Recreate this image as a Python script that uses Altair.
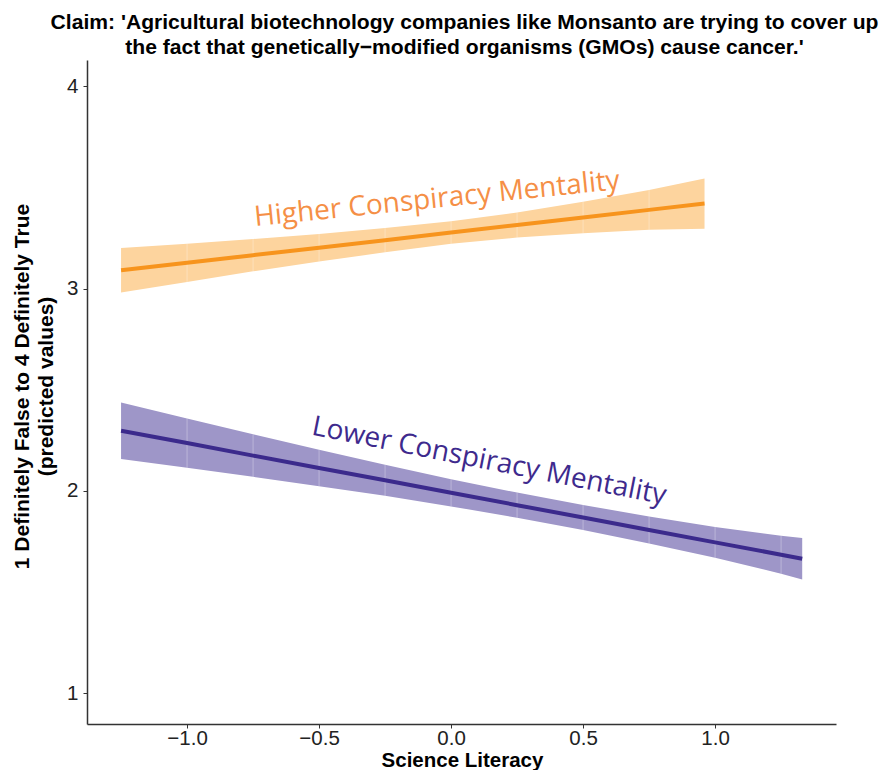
import altair as alt
import pandas as pd

# Higher conspiracy mentality (orange)
hi_x = [-1.25, -1.0, -0.75, -0.5, -0.25, 0.0, 0.25, 0.5, 0.75, 0.96]
hi_fit = [3.090, 3.127, 3.165, 3.202, 3.239, 3.277, 3.314, 3.351, 3.389, 3.420]
hi_lo = [2.980, 3.032, 3.085, 3.134, 3.179, 3.221, 3.252, 3.273, 3.291, 3.296]
hi_up = [3.200, 3.222, 3.245, 3.270, 3.299, 3.333, 3.376, 3.429, 3.487, 3.544]

# Lower conspiracy mentality (purple)
lo_x = [-1.25, -1.0, -0.75, -0.5, -0.25, 0.0, 0.25, 0.5, 0.75, 1.0, 1.25, 1.33]
lo_fit = [2.297, 2.236, 2.174, 2.113, 2.052, 1.990, 1.929, 1.868, 1.806, 1.745, 1.684, 1.664]
lo_lo = [2.157, 2.114, 2.069, 2.023, 1.975, 1.923, 1.867, 1.806, 1.739, 1.669, 1.590, 1.561]
lo_up = [2.437, 2.358, 2.279, 2.203, 2.129, 2.057, 1.991, 1.930, 1.873, 1.821, 1.778, 1.767]

labels = ["Higher Conspiracy Mentality", "Lower Conspiracy Mentality"]
label_x = [-0.053, 0.144]
label_y = [3.44, 2.144]
label_angle = [354.2, 11.2]

x_ticks = [-1.0, -0.5, 0.0, 0.5, 1.0]
y_ticks = [1, 2, 3, 4]

ORANGE_LINE = "#F7941D"
ORANGE_BAND = "#FDD49E"
ORANGE_TEXT = "#F58F46"
PURPLE_LINE = "#3B2A8C"
PURPLE_BAND = "#9E96C8"
PURPLE_TEXT = "#3E2A8D"

df_hi = pd.DataFrame({"x": hi_x, "fit": hi_fit, "lo": hi_lo, "up": hi_up})
df_lo = pd.DataFrame({"x": lo_x, "fit": lo_fit, "lo": lo_lo, "up": lo_up})

xscale = alt.Scale(domain=[-1.379, 1.458], nice=False, zero=False)
yscale = alt.Scale(domain=[0.847, 4.13], nice=False, zero=False)

xaxis = alt.Axis(values=x_ticks, format=".1f", title="Science Literacy", labelPadding=0,
                 titleX=375, titleY=42, titleBaseline="alphabetic", titleAnchor="middle",
                 titleFontSize=20.5)
yaxis = alt.Axis(values=y_ticks, format="d", labelPadding=5,
                 title=["1 Definitely False to 4 Definitely True", "(predicted values)"],
                 titleAngle=-90, titleX=-65, titleY=326, titleBaseline="middle",
                 titleAlign="center", titleLineHeight=24)

X = alt.X("x:Q", scale=xscale, axis=xaxis)
Y = alt.Y("fit:Q", scale=yscale, axis=yaxis)


def band(df, color):
    return alt.Chart(df).mark_area(color=color, opacity=1).encode(
        x=alt.X("x:Q", scale=xscale), y=alt.Y("lo:Q", scale=yscale), y2="up:Q")


def seams(df):
    inner = df.iloc[1:-1]
    return alt.Chart(inner).mark_rule(color="#FFFFFF", opacity=0.3, strokeWidth=1).encode(
        x=alt.X("x:Q", scale=xscale), y=alt.Y("lo:Q", scale=yscale), y2="up:Q")


def line(df, color):
    return alt.Chart(df).mark_line(color=color, strokeWidth=4).encode(x=X, y=Y)


df_lab = pd.DataFrame({"x": label_x, "y": label_y, "t": labels, "a": label_angle,
                       "c": [ORANGE_TEXT, PURPLE_TEXT]})
text = alt.Chart(df_lab).mark_text(font="Open Sans", fontSize=28, align="center",
                                   baseline="middle").encode(
    x=alt.X("x:Q", scale=xscale), y=alt.Y("y:Q", scale=yscale),
    text="t:N", angle=alt.Angle("a:Q", scale=None), color=alt.Color("c:N", scale=None))

chart = alt.layer(
    band(df_hi, ORANGE_BAND), band(df_lo, PURPLE_BAND),
    seams(df_hi), seams(df_lo),
    line(df_hi, ORANGE_LINE), line(df_lo, PURPLE_LINE),
    text,
).properties(
    width=749, height=664,
    title=alt.TitleParams(
        ["Claim: 'Agricultural biotechnology companies like Monsanto are trying to cover up",
         "the fact that genetically\u2212modified organisms (GMOs) cause cancer.'"],
        font="Liberation Sans", fontSize=21.1, fontWeight="bold", color="#000000",
        anchor="middle", lineHeight=25, offset=2, dx=3),
    padding={"left": 79, "top": 52, "right": 44, "bottom": 46},
    autosize=alt.AutoSizeParams(type="none"),
).configure_view(stroke=None).configure_axis(
    grid=False, domainColor="#333333", domainWidth=1.5, tickColor="#333333",
    tickSize=4, labelFont="Liberation Sans", labelFontSize=20.5, labelColor="#222222",
    titleFont="Liberation Sans", titleFontSize=21, titleFontWeight="bold", titleColor="#000000",
)

chart.save("out.html", embed_options={"renderer": "svg", "actions": False})
